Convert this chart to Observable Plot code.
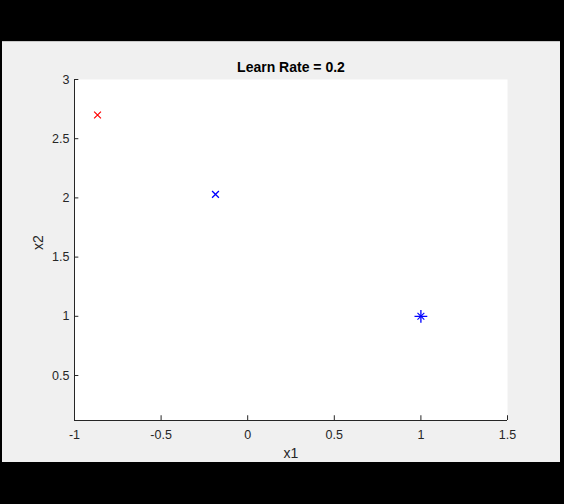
<!DOCTYPE html>
<html>
<head>
<meta charset="utf-8">
<script src="https://cdn.jsdelivr.net/npm/d3@7"></script>
<script src="https://cdn.jsdelivr.net/npm/@observablehq/plot@0.6"></script>
<style>
  html, body { margin: 0; padding: 0; background: #000; width: 564px; height: 504px; overflow: hidden; }
  #panel { position: absolute; left: 2px; top: 41px; width: 558px; height: 421px; background: #f0f0f0; border-top: 1px solid #c8c8c8; box-sizing: border-box; }
  #chart { position: absolute; left: 0; top: 0; }
</style>
</head>
<body>
<div id="panel"><div id="chart"></div></div>
<script>
const titleText = "Learn Rate = 0.2";
const xLabel = "x1";
const yLabel = "x2";
const xTicks = [-1, -0.5, 0, 0.5, 1, 1.5];
const yTicks = [0.5, 1, 1.5, 2, 2.5, 3];
const xDomain = [-1, 1.5];
const yDomain = [0.12, 3];

// points: red x, blue x, blue asterisk
const redX = [-0.867];
const redY = [2.70];
const blueX = [-0.186];
const blueY = [2.03];
const starX = [1.0];
const starY = [1.0];

const red = redX.map((x, i) => ({x, y: redY[i]}));
const blue = blueX.map((x, i) => ({x, y: blueY[i]}));
const star = starX.map((x, i) => ({x, y: starY[i]}));

const axisColor = "#262626";
const fmt = d => String(d);

const plot = Plot.plot({
  width: 558,
  height: 420,
  marginLeft: 72,
  marginTop: 37,
  marginRight: 53,
  marginBottom: 42,
  style: {background: "transparent", fontFamily: "Arial, 'Liberation Sans', sans-serif", fontSize: "12.5px", color: axisColor},
  x: {domain: xDomain},
  y: {domain: yDomain},
  marks: [
    Plot.frame({fill: "white", stroke: null}),
    Plot.axisX({ticks: xTicks, tickSize: 0, tickPadding: 10, tickFormat: fmt, label: null, fontSize: 12.5, fill: axisColor}),
    Plot.axisY({ticks: yTicks, tickSize: 0, tickPadding: 5, tickFormat: fmt, label: null, fontSize: 12.5, fill: axisColor}),
    Plot.ruleX(xTicks, {x: d => d, y1: yDomain[0], y2: yDomain[0] + 0.04, stroke: axisColor}),
    Plot.ruleY(yTicks, {y: d => d, x1: xDomain[0], x2: xDomain[0] + 0.025, stroke: axisColor}),
    Plot.ruleY([yDomain[0]], {stroke: axisColor}),
    Plot.ruleX([xDomain[0]], {stroke: axisColor}),
    Plot.dot(red, {x: "x", y: "y", symbol: "times", r: 3.2, stroke: "#ff0000", strokeWidth: 1.2}),
    Plot.dot(blue, {x: "x", y: "y", symbol: "times", r: 3.2, stroke: "#0000ff", strokeWidth: 1.3}),
    Plot.dot(star, {x: "x", y: "y", symbol: "plus", r: 4.2, stroke: "#0000ff", strokeWidth: 1.3}),
    Plot.dot(star, {x: "x", y: "y", symbol: "times", r: 3.2, stroke: "#0000ff", strokeWidth: 1.1}),
    Plot.text([titleText], {frameAnchor: "top", lineAnchor: "middle", dy: -12, fontWeight: "bold", fontSize: 14, fill: "#000"}),
    Plot.text([xLabel], {frameAnchor: "bottom", lineAnchor: "middle", dy: 33, fontSize: 14, fill: axisColor}),
    Plot.text([yLabel], {frameAnchor: "left", dx: -36, rotate: -90, fontSize: 14, fill: axisColor})
  ]
});
document.getElementById("chart").appendChild(plot);
</script>
</body>
</html>
